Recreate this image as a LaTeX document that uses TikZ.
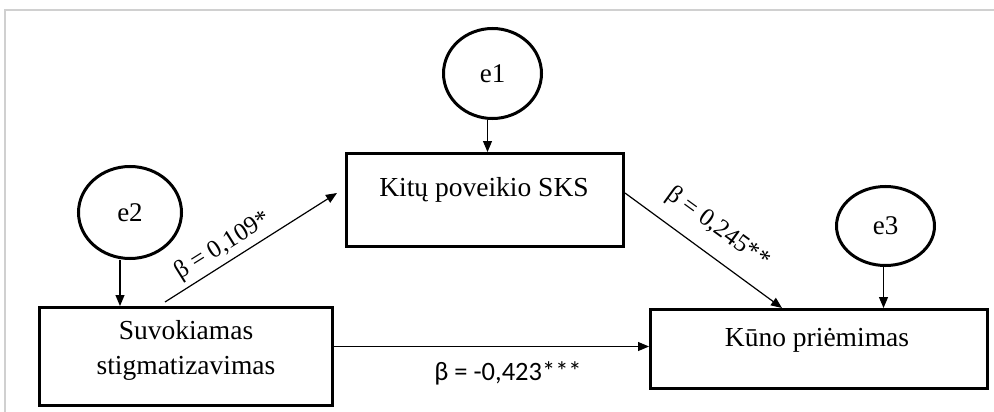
\documentclass[tikz,border=0pt]{standalone}
\usepackage{fontspec}
\setmainfont{Liberation Serif}
\newfontfamily\calib{Carlito}
\usetikzlibrary{arrows.meta,shapes.geometric,calc}
\begin{document}
\begin{tikzpicture}[x=1pt,y=-1pt,
  box/.style={draw,line width=3pt,inner sep=0pt},
  err/.style={draw,ellipse,line width=3pt,inner sep=0pt,font=\fontsize{27}{30}\selectfont},
  txt/.style={inner sep=0pt,align=center,font=\fontsize{27.5}{35}\selectfont},
  arr/.style={line width=1.2pt,-{Triangle[length=11pt,width=9pt]}},
  coef/.style={inner sep=0pt,font=\fontsize{25}{30}\selectfont}]
\useasboundingbox (0,0) rectangle (994,412);
\fill[white] (0,0) rectangle (994,412);
\draw[line width=2pt,color={rgb,255:red,208;green,208;blue,208}] (5,412) -- (5,10) -- (994,10);
% boxes
\node[box,minimum width=277pt,minimum height=93pt] (kitu) at (485,200) {};
\node[box,minimum width=293pt,minimum height=98pt] (suv) at (186,356.5) {};
\node[box,minimum width=337pt,minimum height=79pt] (kuno) at (819,349) {};
\node[txt] (kitut) at (484,190) {Kitų poveikio SKS};
\node[txt] (suvt) at (186,350.5) {Suvokiamas\\stigmatizavimas};
\node[txt] (kunot) at (817,340) {Kūno priėmimas};
% error terms
\node[err,minimum width=98pt,minimum height=90pt] (e1) at (492.5,73.5) {e1};
\node[err,minimum width=103pt,minimum height=92pt] (e2) at (130,212.5) {e2};
\node[err,minimum width=98pt,minimum height=79pt] (e3) at (885.5,226) {e3};
% arrows
\draw[arr] ([xshift=-5pt]e1.south) -- ([xshift=-5pt]e1.south |- kitu.north);
\draw[arr] ([xshift=-10pt]e2.south) -- ([xshift=-10pt]e2.south |- suv.north);
\draw[arr] ([xshift=-2pt]e3.south) -- ([xshift=-2pt]e3.south |- kuno.north);
\draw[arr] ($(suv.north west)+(127,-4)$) -- ($(kitu.west)+(-8,-7)$);
\draw[arr] ($(kitu.east)+(0,-7)$) -- ($(kuno.north)+(-37,0)$);
\draw[arr] ($(suv.east)+(0,-10)$) coordinate (h) -- (h -| kuno.west);
% coefficients
\node[coef,rotate=32] (c1) at (223,246) {β = 0,109*};
\node[coef,rotate=-36] (c2) at (718,228) {β = 0,245**};
\node[coef,font=\calib\fontsize{26.5}{30}\selectfont] (c3) at (508,373) {β = -0,423***};
\end{tikzpicture}
\end{document}
